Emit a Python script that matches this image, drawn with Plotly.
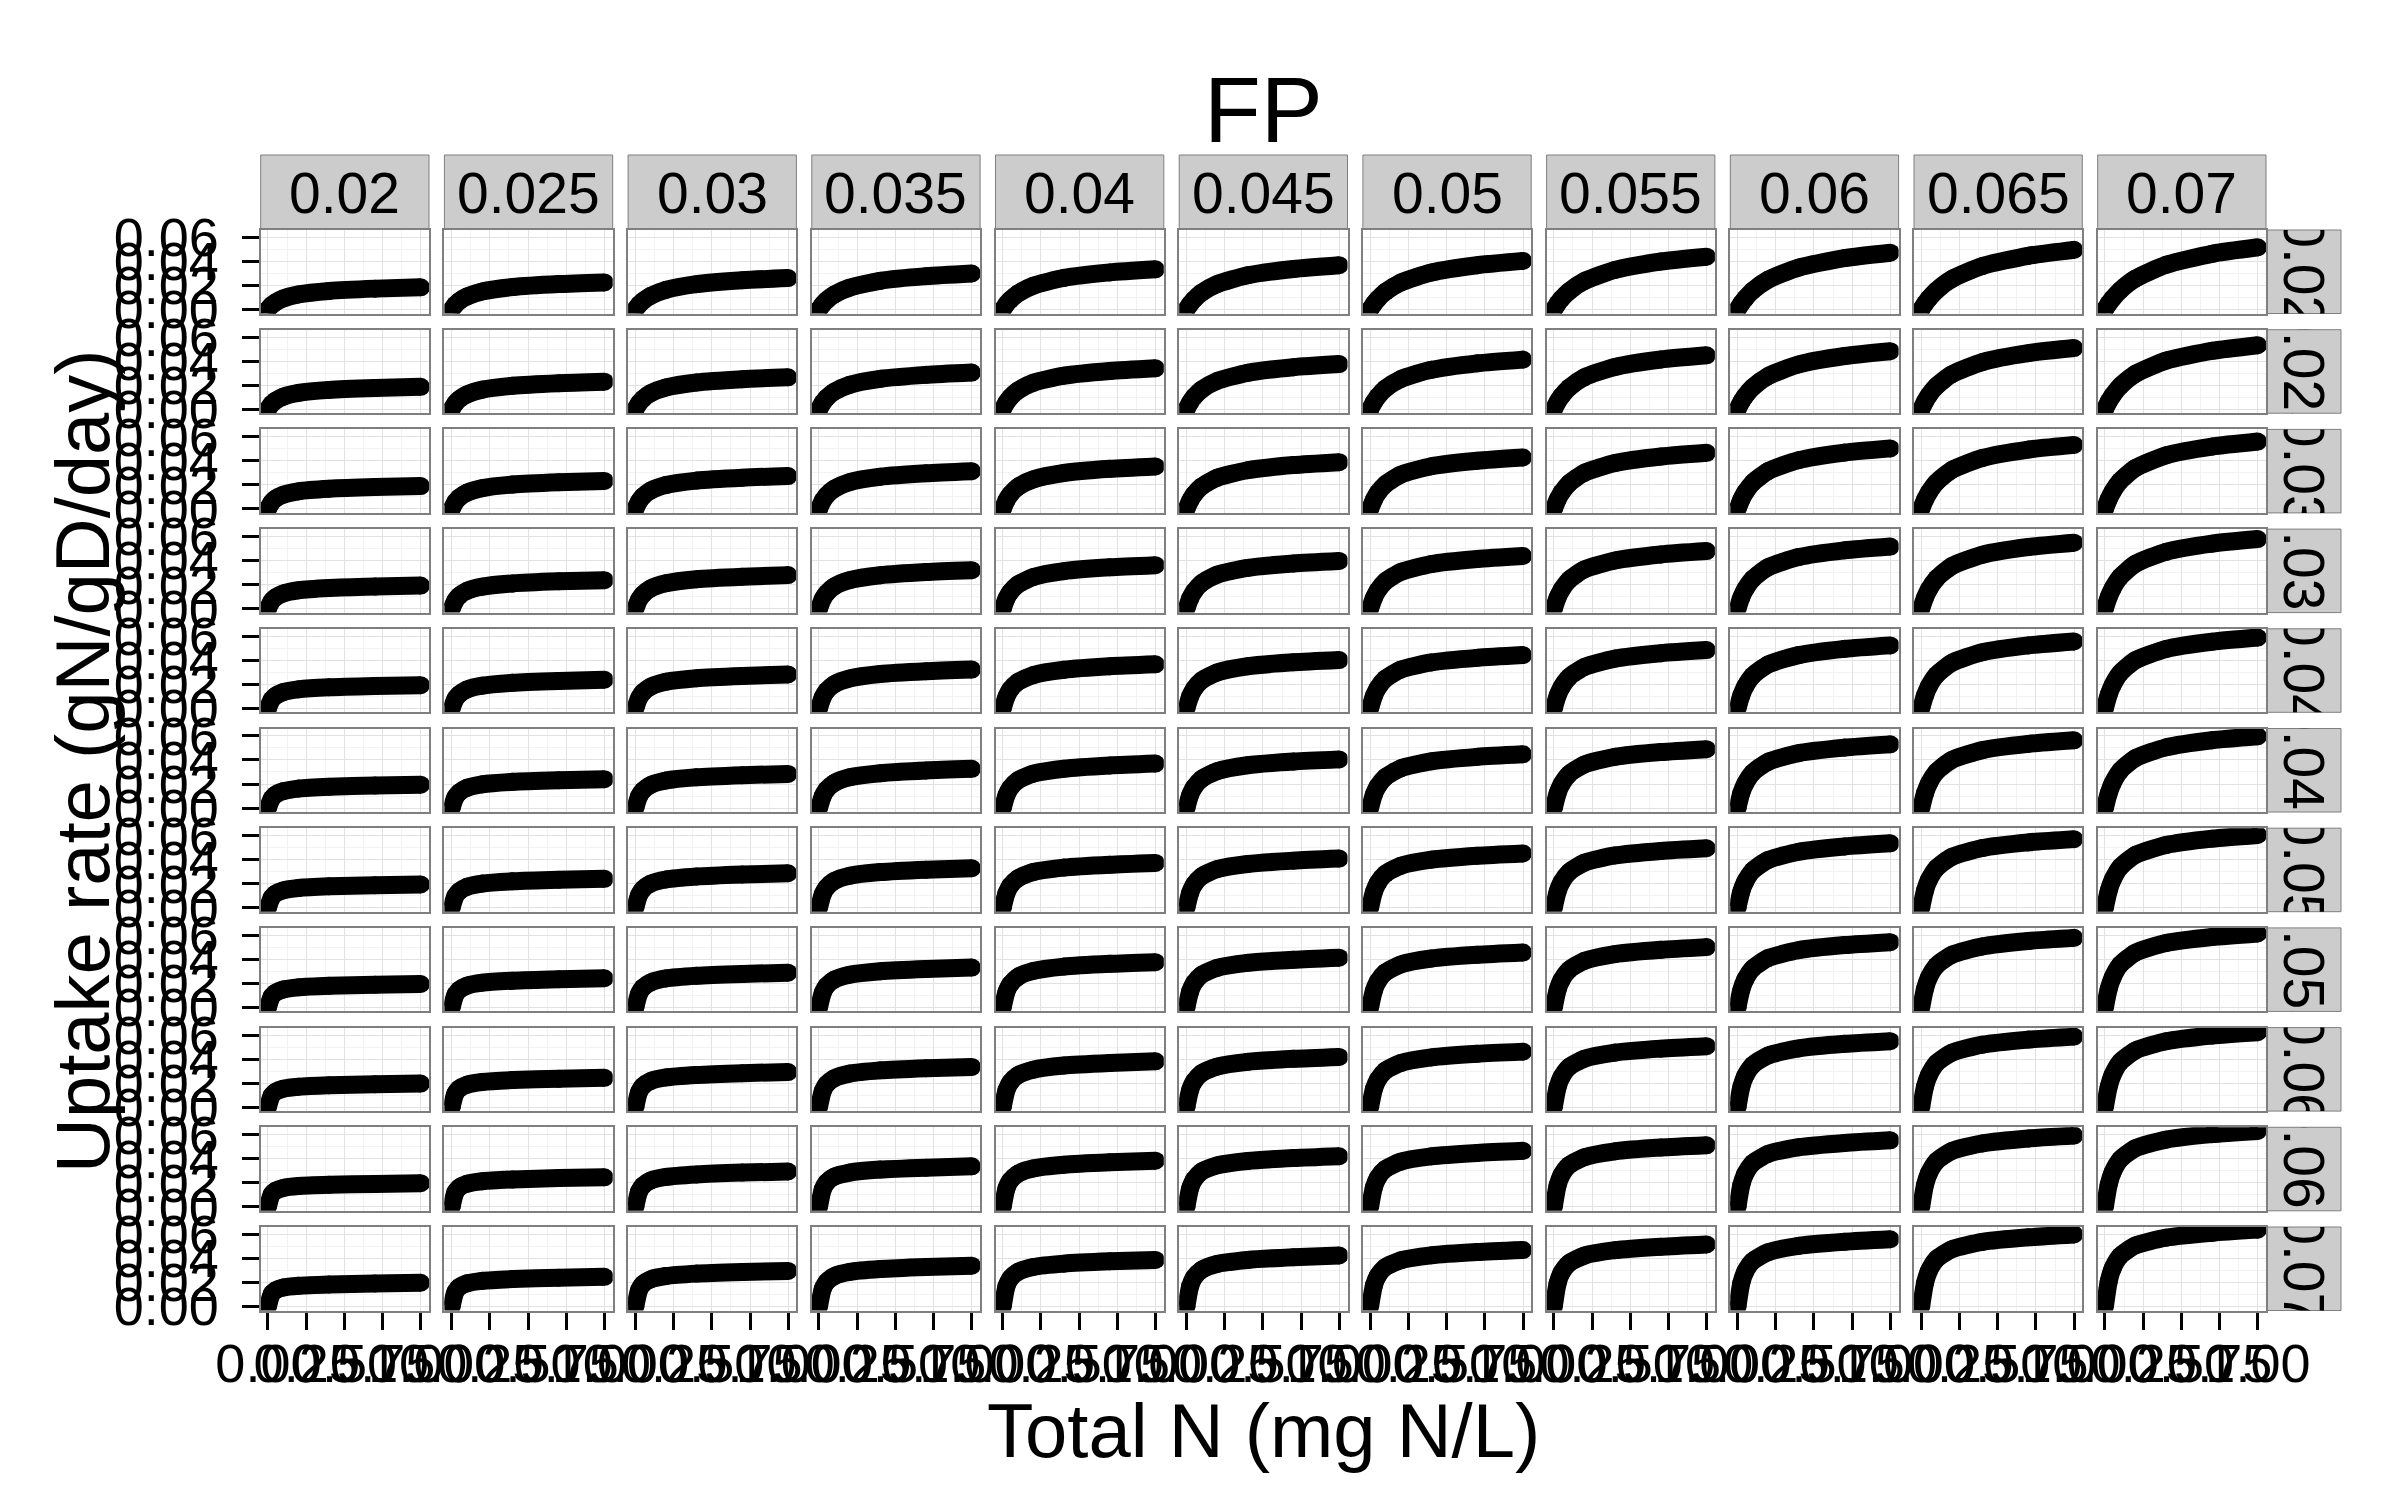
import plotly.graph_objects as go

W, H = 2400, 1500
FONT = "Liberation Sans, Arial, Helvetica, sans-serif"

# ---------------- data ----------------
fp_labels = ["0.02", "0.025", "0.03", "0.035", "0.04", "0.045", "0.05", "0.055", "0.06", "0.065", "0.07"]
row_labels = ["0.02", "0.025", "0.03", "0.035", "0.04", "0.045", "0.05", "0.055", "0.06", "0.065", "0.07"]

total_n = [0, 0.025, 0.05, 0.1, 0.2, 0.4, 0.7, 1.0]

x_tick_vals = [0, 0.25, 0.5, 0.75, 1.0]
x_tick_text = ["0.00", "0.25", "0.50", "0.75", "1.00"]
y_tick_vals = [0, 0.02, 0.04, 0.06]
y_tick_text = ["0.00", "0.02", "0.04", "0.06"]

# uptake rate per row facet; each inner list = one FP column (0.02 ... 0.07)
uptake_row_0_020 = [
    [0, .0036, .0060, .0092, .0126, .0155, .0174, .0185],
    [0, .0041, .0070, .0108, .0150, .0187, .0212, .0226],
    [0, .0041, .0071, .0114, .0164, .0211, .0244, .0262],
    [0, .0043, .0077, .0125, .0182, .0239, .0278, .0300],
    [0, .0046, .0081, .0134, .0198, .0263, .0309, .0335],
    [0, .0046, .0084, .0140, .0211, .0285, .0338, .0369],
    [0, .0048, .0087, .0147, .0224, .0308, .0369, .0405],
    [0, .0049, .0089, .0152, .0237, .0330, .0400, .0440],
    [0, .0050, .0091, .0158, .0248, .0349, .0428, .0473],
    [0, .0049, .0091, .0159, .0254, .0362, .0447, .0497],
    [0, .0049, .0091, .0160, .0258, .0372, .0464, .0518],
]
uptake_row_0_025 = [
    [0, .0044, .0071, .0104, .0136, .0161, .0177, .0187],
    [0, .0050, .0083, .0123, .0163, .0196, .0217, .0229],
    [0, .0051, .0087, .0133, .0181, .0223, .0250, .0266],
    [0, .0055, .0095, .0146, .0203, .0253, .0286, .0305],
    [0, .0057, .0099, .0156, .0220, .0279, .0318, .0341],
    [0, .0058, .0102, .0164, .0235, .0303, .0350, .0376],
    [0, .0059, .0105, .0172, .0251, .0328, .0382, .0413],
    [0, .0061, .0109, .0179, .0266, .0352, .0414, .0449],
    [0, .0061, .0110, .0183, .0276, .0373, .0443, .0483],
    [0, .0064, .0116, .0193, .0291, .0393, .0467, .0509],
    [0, .0063, .0114, .0193, .0295, .0405, .0486, .0533],
]
uptake_row_0_030 = [
    [0, .0055, .0086, .0118, .0147, .0168, .0182, .0190],
    [0, .0059, .0094, .0135, .0173, .0203, .0222, .0233],
    [0, .0064, .0105, .0153, .0199, .0236, .0260, .0274],
    [0, .0069, .0113, .0168, .0223, .0268, .0297, .0314],
    [0, .0073, .0122, .0184, .0246, .0299, .0334, .0354],
    [0, .0070, .0121, .0187, .0259, .0322, .0365, .0389],
    [0, .0077, .0133, .0205, .0285, .0355, .0401, .0428],
    [0, .0078, .0135, .0213, .0301, .0382, .0436, .0467],
    [0, .0078, .0137, .0219, .0315, .0406, .0469, .0504],
    [0, .0077, .0136, .0222, .0324, .0424, .0494, .0533],
    [0, .0081, .0143, .0233, .0341, .0446, .0519, .0561],
]
uptake_row_0_035 = [
    [0, .0063, .0094, .0126, .0153, .0172, .0184, .0192],
    [0, .0069, .0107, .0148, .0183, .0210, .0227, .0237],
    [0, .0076, .0119, .0168, .0211, .0245, .0266, .0279],
    [0, .0081, .0129, .0185, .0237, .0278, .0305, .0320],
    [0, .0085, .0138, .0202, .0263, .0312, .0344, .0362],
    [0, .0087, .0143, .0213, .0282, .0339, .0376, .0397],
    [0, .0090, .0151, .0227, .0305, .0371, .0413, .0438],
    [0, .0092, .0156, .0239, .0326, .0401, .0451, .0479],
    [0, .0094, .0160, .0248, .0344, .0429, .0485, .0517],
    [0, .0092, .0159, .0250, .0354, .0449, .0513, .0549],
    [0, .0097, .0167, .0264, .0373, .0473, .0541, .0579],
]
uptake_row_0_040 = [
    [0, .0072, .0104, .0135, .0158, .0175, .0186, .0193],
    [0, .0078, .0117, .0157, .0189, .0213, .0228, .0238],
    [0, .0087, .0133, .0180, .0221, .0251, .0270, .0282],
    [0, .0094, .0146, .0201, .0249, .0286, .0309, .0323],
    [0, .0099, .0157, .0220, .0277, .0321, .0350, .0366],
    [0, .0101, .0162, .0232, .0298, .0350, .0383, .0402],
    [0, .0104, .0169, .0247, .0322, .0382, .0420, .0443],
    [0, .0106, .0175, .0260, .0344, .0414, .0459, .0485],
    [0, .0108, .0181, .0272, .0365, .0443, .0495, .0524],
    [0, .0108, .0182, .0278, .0379, .0467, .0524, .0557],
    [0, .0114, .0192, .0294, .0401, .0494, .0554, .0589],
]
uptake_row_0_045 = [
    [0, .0078, .0111, .0140, .0162, .0177, .0187, .0194],
    [0, .0090, .0130, .0168, .0197, .0218, .0231, .0240],
    [0, .0099, .0146, .0192, .0229, .0256, .0273, .0284],
    [0, .0100, .0154, .0209, .0256, .0290, .0313, .0326],
    [0, .0108, .0167, .0231, .0286, .0327, .0354, .0370],
    [0, .0110, .0173, .0243, .0307, .0356, .0387, .0405],
    [0, .0113, .0180, .0258, .0331, .0389, .0426, .0447],
    [0, .0123, .0197, .0283, .0363, .0426, .0466, .0490],
    [0, .0125, .0202, .0295, .0385, .0457, .0503, .0530],
    [0, .0124, .0204, .0302, .0400, .0482, .0534, .0564],
    [0, .0123, .0206, .0310, .0416, .0505, .0564, .0597],
]
uptake_row_0_050 = [
    [0, .0085, .0117, .0144, .0164, .0178, .0188, .0194],
    [0, .0097, .0137, .0174, .0201, .0220, .0233, .0241],
    [0, .0107, .0155, .0200, .0235, .0260, .0277, .0287],
    [0, .0115, .0169, .0223, .0266, .0297, .0317, .0329],
    [0, .0122, .0184, .0245, .0297, .0334, .0358, .0373],
    [0, .0126, .0193, .0262, .0321, .0364, .0392, .0409],
    [0, .0132, .0204, .0282, .0349, .0400, .0433, .0452],
    [0, .0134, .0212, .0297, .0375, .0435, .0473, .0495],
    [0, .0135, .0216, .0310, .0397, .0466, .0510, .0536],
    [0, .0144, .0230, .0330, .0423, .0497, .0544, .0571],
    [0, .0142, .0231, .0338, .0440, .0522, .0575, .0606],
]
uptake_row_0_055 = [
    [0, .0092, .0123, .0149, .0167, .0180, .0189, .0195],
    [0, .0106, .0146, .0181, .0206, .0223, .0235, .0243],
    [0, .0116, .0165, .0208, .0241, .0264, .0279, .0289],
    [0, .0124, .0180, .0232, .0272, .0301, .0320, .0332],
    [0, .0132, .0194, .0255, .0304, .0340, .0363, .0377],
    [0, .0135, .0204, .0272, .0329, .0371, .0397, .0414],
    [0, .0141, .0215, .0292, .0358, .0407, .0438, .0457],
    [0, .0147, .0227, .0313, .0388, .0444, .0480, .0502],
    [0, .0147, .0232, .0326, .0411, .0477, .0519, .0543],
    [0, .0157, .0248, .0348, .0438, .0508, .0553, .0579],
    [0, .0155, .0248, .0356, .0456, .0536, .0586, .0616],
]
uptake_row_0_060 = [
    [0, .0097, .0128, .0153, .0170, .0182, .0190, .0196],
    [0, .0115, .0154, .0186, .0209, .0225, .0236, .0244],
    [0, .0128, .0176, .0217, .0247, .0268, .0283, .0292],
    [0, .0135, .0191, .0241, .0279, .0306, .0324, .0335],
    [0, .0142, .0206, .0266, .0312, .0346, .0367, .0381],
    [0, .0146, .0215, .0283, .0337, .0377, .0402, .0418],
    [0, .0151, .0227, .0304, .0367, .0414, .0444, .0462],
    [0, .0166, .0249, .0334, .0403, .0454, .0487, .0507],
    [0, .0169, .0259, .0351, .0430, .0489, .0527, .0549],
    [0, .0171, .0265, .0366, .0453, .0520, .0562, .0587],
    [0, .0169, .0267, .0375, .0472, .0548, .0596, .0624],
]
uptake_row_0_065 = [
    [0, .0104, .0134, .0157, .0173, .0183, .0191, .0197],
    [0, .0122, .0161, .0192, .0213, .0228, .0239, .0246],
    [0, .0128, .0177, .0219, .0249, .0270, .0285, .0294],
    [0, .0147, .0203, .0251, .0285, .0310, .0326, .0337],
    [0, .0155, .0219, .0276, .0320, .0351, .0371, .0384],
    [0, .0157, .0228, .0294, .0345, .0382, .0406, .0421],
    [0, .0163, .0240, .0315, .0376, .0420, .0448, .0466],
    [0, .0179, .0264, .0347, .0413, .0462, .0493, .0512],
    [0, .0181, .0273, .0365, .0440, .0496, .0532, .0554],
    [0, .0183, .0279, .0380, .0465, .0528, .0569, .0593],
    [0, .0185, .0286, .0394, .0488, .0559, .0605, .0632],
]
uptake_row_0_070 = [
    [0, .0105, .0135, .0158, .0173, .0184, .0192, .0198],
    [0, .0123, .0162, .0193, .0214, .0229, .0240, .0247],
    [0, .0139, .0187, .0226, .0254, .0274, .0287, .0296],
    [0, .0149, .0205, .0253, .0288, .0312, .0329, .0340],
    [0, .0170, .0234, .0289, .0329, .0357, .0376, .0388],
    [0, .0171, .0242, .0306, .0354, .0388, .0411, .0425],
    [0, .0176, .0254, .0328, .0385, .0426, .0453, .0470],
    [0, .0193, .0280, .0361, .0424, .0469, .0498, .0517],
    [0, .0195, .0288, .0379, .0452, .0505, .0539, .0560],
    [0, .0196, .0295, .0395, .0477, .0538, .0576, .0600],
    [0, .0209, .0315, .0421, .0509, .0573, .0614, .0640],
]

uptake_by_row = [
    uptake_row_0_020, uptake_row_0_025, uptake_row_0_030, uptake_row_0_035,
    uptake_row_0_040, uptake_row_0_045, uptake_row_0_050, uptake_row_0_055,
    uptake_row_0_060, uptake_row_0_065, uptake_row_0_070,
]

# ---------------- geometry (pixels) ----------------
PANEL_L0, PANEL_W, COL_STEP = 260.7, 168.3, 183.7
PANEL_T0, PANEL_H, ROW_STEP = 230.0, 83.5, 99.7
STRIP_TOP, STRIP_BOT = 155.0, 229.5
RSTRIP_L, RSTRIP_R = 2266.5, 2341.0
X_RANGE = [-0.047, 1.053]
Y_RANGE = [-0.0033, 0.0662]

GRID_MAJOR = "#E2E2E2"
GRID_MINOR = "#F2F2F2"
BORDER = "#7F7F7F"
STRIP_FILL = "#CCCCCC"


def px(x):
    return x / W


def py(y):
    return 1 - y / H


fig = go.Figure()
layout_axes = {}
shapes = []
annotations = []

nrow = len(row_labels)
ncol = len(fp_labels)
n = 0
for r in range(nrow):
    top = PANEL_T0 + r * ROW_STEP
    bot = top + PANEL_H
    for c in range(ncol):
        n += 1
        left = PANEL_L0 + c * COL_STEP
        right = left + PANEL_W
        xref = "x" if n == 1 else f"x{n}"
        yref = "y" if n == 1 else f"y{n}"
        fig.add_trace(go.Scatter(
            x=total_n, y=uptake_by_row[r][c],
            mode="lines+markers",
            line=dict(color="black", width=18, shape="spline", smoothing=0.6),
            marker=dict(color="black", size=18),
            xaxis=xref, yaxis=yref, showlegend=False, hoverinfo="skip",
        ))
        bottom_row = (r == nrow - 1)
        first_col = (c == 0)
        layout_axes["xaxis" if n == 1 else f"xaxis{n}"] = dict(
            domain=[px(left), px(right)], anchor=yref, range=X_RANGE, automargin=False,
            tickmode="array", tickvals=x_tick_vals, ticktext=x_tick_text,
            showticklabels=bottom_row, ticks="outside" if bottom_row else "",
            ticklen=17, tickwidth=3, tickcolor="black", tickangle=0,
            ticklabelstandoff=-12,
            tickfont=dict(family=FONT, size=54, color="black"),
            showgrid=True, gridcolor=GRID_MAJOR, gridwidth=1,
            minor=dict(tickvals=[0.125, 0.375, 0.625, 0.875], showgrid=True,
                       gridcolor=GRID_MINOR, gridwidth=1, ticks=""),
            showline=True, linecolor=BORDER, linewidth=2, mirror=True,
            zeroline=False, fixedrange=True,
        )
        layout_axes["yaxis" if n == 1 else f"yaxis{n}"] = dict(
            domain=[py(bot), py(top)], anchor=xref, range=Y_RANGE, automargin=False,
            tickmode="array", tickvals=y_tick_vals, ticktext=y_tick_text,
            showticklabels=first_col, ticks="outside" if first_col else "",
            ticklen=17, tickwidth=3, tickcolor="black",
            ticklabelstandoff=12,
            tickfont=dict(family=FONT, size=54, color="black"),
            showgrid=True, gridcolor=GRID_MAJOR, gridwidth=1,
            minor=dict(tickvals=[0.01, 0.03, 0.05], showgrid=True,
                       gridcolor=GRID_MINOR, gridwidth=1, ticks=""),
            showline=True, linecolor=BORDER, linewidth=2, mirror=True,
            zeroline=False, fixedrange=True,
        )

# column strips (top)
for c in range(ncol):
    left = PANEL_L0 + c * COL_STEP
    right = left + PANEL_W
    shapes.append(dict(type="rect", xref="paper", yref="paper",
                       x0=px(left), x1=px(right), y0=py(STRIP_BOT), y1=py(STRIP_TOP),
                       fillcolor=STRIP_FILL, line=dict(color=BORDER, width=1), layer="below"))
    annotations.append(dict(x=px((left + right) / 2), y=py(193), xref="paper", yref="paper",
                            text=fp_labels[c], showarrow=False, xanchor="center", yanchor="middle",
                            font=dict(family=FONT, size=57, color="black")))

# row strips (right) – text drawn by a clipped bar in its own subplot
for r in range(nrow):
    top = PANEL_T0 + r * ROW_STEP
    bot = top + PANEL_H
    n += 1
    shapes.append(dict(type="rect", xref="paper", yref="paper",
                       x0=px(RSTRIP_L), x1=px(RSTRIP_R), y0=py(bot), y1=py(top),
                       fillcolor=STRIP_FILL, line=dict(color=BORDER, width=1), layer="below"))
    fig.add_trace(go.Bar(
        x=[0], y=[1], width=[1], text=[row_labels[r]],
        textposition="inside", insidetextanchor="middle", textangle=90,
        constraintext="none", cliponaxis=True,
        insidetextfont=dict(family=FONT, size=57, color="black"),
        marker=dict(color="rgba(0,0,0,0)", line=dict(width=0)),
        xaxis=f"x{n}", yaxis=f"y{n}", showlegend=False, hoverinfo="skip",
    ))
    layout_axes[f"xaxis{n}"] = dict(domain=[px(RSTRIP_L), px(RSTRIP_R)], anchor=f"y{n}",
                                    range=[-0.5, 0.5], visible=False, fixedrange=True,
                                    automargin=False)
    layout_axes[f"yaxis{n}"] = dict(domain=[py(bot), py(top)], anchor=f"x{n}",
                                    range=[0, 1], visible=False, fixedrange=True,
                                    automargin=False)

# titles
annotations.append(dict(x=px(1263), y=py(110), xref="paper", yref="paper", text="FP",
                        showarrow=False, xanchor="center", yanchor="middle",
                        font=dict(family=FONT, size=93, color="black")))
annotations.append(dict(x=px(1263), y=py(1430), xref="paper", yref="paper", text="Total N (mg N/L)",
                        showarrow=False, xanchor="center", yanchor="middle",
                        font=dict(family=FONT, size=76, color="black")))
annotations.append(dict(x=px(82), y=py(761), xref="paper", yref="paper",
                        text="Uptake rate (gN/gD/day)", textangle=-90,
                        showarrow=False, xanchor="center", yanchor="middle",
                        font=dict(family=FONT, size=76, color="black")))

fig.update_layout(
    template="none",
    width=W, height=H, margin=dict(l=0, r=0, t=0, b=0, autoexpand=False),
    paper_bgcolor="white", plot_bgcolor="rgba(0,0,0,0)",
    shapes=shapes, annotations=annotations, showlegend=False,
    font=dict(family=FONT, color="black"),
    **layout_axes,
)

fig.write_html("out.html")
